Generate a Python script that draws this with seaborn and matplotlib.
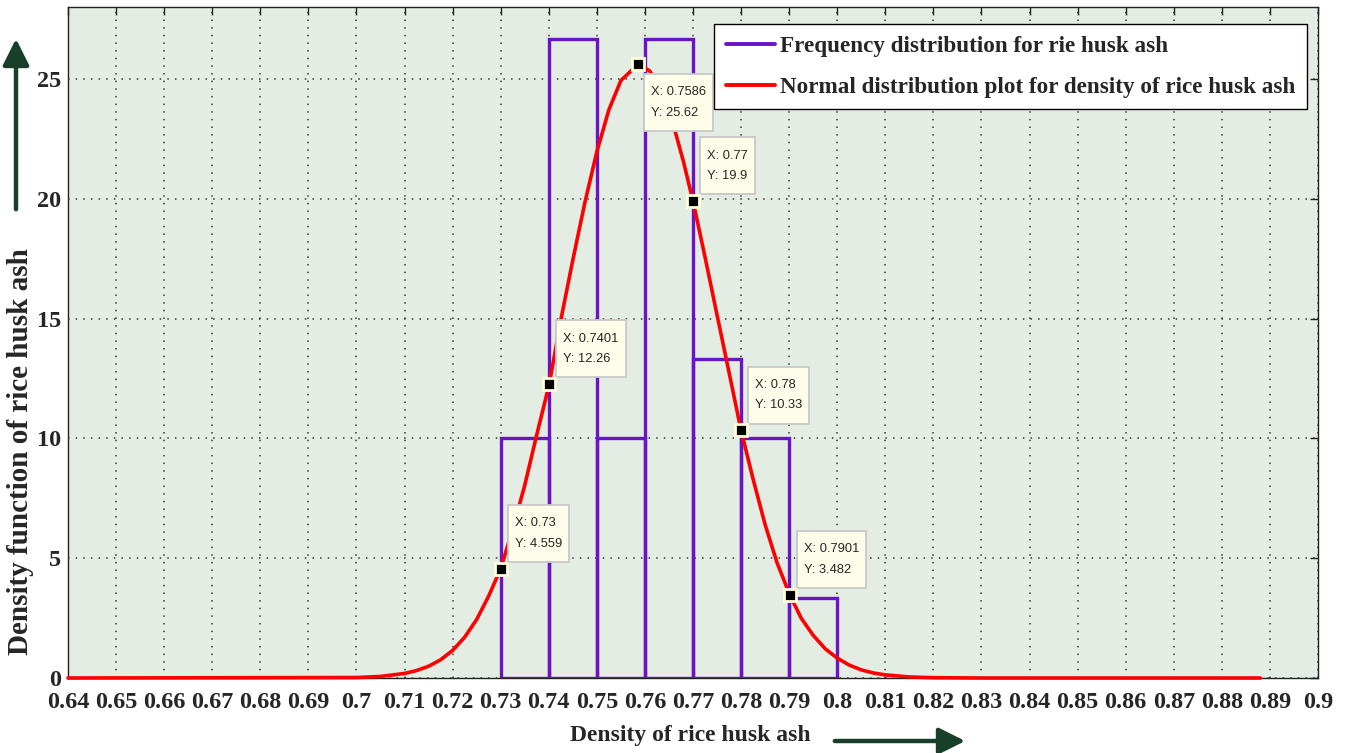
import numpy as np
import pandas as pd
import matplotlib
matplotlib.use("Agg")
import matplotlib.pyplot as plt
from matplotlib.lines import Line2D
from matplotlib.patches import FancyArrowPatch
from matplotlib.path import Path
import seaborn as sns

# ---- data ----
bin_edges = [0.73, 0.74, 0.75, 0.76, 0.77, 0.78, 0.79, 0.80]
bin_density = [10.0, 26.67, 10.0, 26.67, 13.33, 10.0, 3.33]

curve_x = [0.640, 0.700, 0.705, 0.710, 0.7125, 0.715, 0.7175, 0.720, 0.7225, 0.725,
           0.7275, 0.730, 0.7325, 0.735, 0.7375, 0.7401, 0.7425, 0.745, 0.7475, 0.750,
           0.7525, 0.755, 0.7586, 0.761, 0.7635, 0.766, 0.768, 0.770, 0.7725, 0.775,
           0.7775, 0.780, 0.7825, 0.785, 0.7875, 0.7901, 0.7925, 0.795, 0.7975, 0.800,
           0.8025, 0.805, 0.8075, 0.810, 0.815, 0.820, 0.830, 0.888]
curve_y = [0.0, 0.02, 0.065, 0.19, 0.31, 0.49, 0.76, 1.15, 1.70, 2.44,
           3.42, 4.559, 6.21, 8.04, 10.15, 12.26, 14.93, 17.44, 19.83, 21.96,
           23.71, 24.93, 25.62, 25.33, 24.45, 23.02, 21.56, 19.9, 17.57, 15.15,
           12.75, 10.33, 8.3, 6.4, 4.8, 3.482, 2.5, 1.78, 1.22, 0.83,
           0.54, 0.34, 0.21, 0.13, 0.044, 0.013, 0.0, 0.0]

tip_x = [0.73, 0.7401, 0.7586, 0.77, 0.78, 0.7901]
tip_y = [4.559, 12.26, 25.62, 19.9, 10.33, 3.482]
tip_labels = ["X: 0.73\nY: 4.559", "X: 0.7401\nY: 12.26", "X: 0.7586\nY: 25.62",
              "X: 0.77\nY: 19.9", "X: 0.78\nY: 10.33", "X: 0.7901\nY: 3.482"]

x_ticks = [round(0.64 + 0.01 * i, 2) for i in range(27)]
x_tick_labels = ["0.64", "0.65", "0.66", "0.67", "0.68", "0.69", "0.7", "0.71", "0.72",
                 "0.73", "0.74", "0.75", "0.76", "0.77", "0.78", "0.79", "0.8", "0.81",
                 "0.82", "0.83", "0.84", "0.85", "0.86", "0.87", "0.88", "0.89", "0.9"]
y_ticks = [0, 5, 10, 15, 20, 25]

legend_labels = ["Frequency distribution for rie husk ash",
                 "Normal distribution plot for density of rice husk ash"]

# ---- styling ----
sns.set_style("white")
plt.rcParams['font.family'] = ['Liberation Serif', 'DejaVu Serif']

PURPLE = "#6a14c8"
RED = "#ff0000"
ARROW = "#173f2a"
BG = "#e3ede3"


def tip_box(x0, y0, width, height, mutation_size):
    """Rectangular box with more vertical than horizontal padding (MATLAB datatip look)."""
    px = 0.55 * mutation_size
    py = 0.95 * mutation_size
    x0, y0 = x0 - px, y0 - py
    x1, y1 = x0 + width + 2 * px, y0 + height + 2 * py
    return Path([(x0, y0), (x1, y0), (x1, y1), (x0, y1), (x0, y0)], closed=True)


fig = plt.figure(figsize=(13.5, 7.53), dpi=100)
ax = fig.add_axes([68 / 1350, 1 - 678 / 753, 1250 / 1350, 671 / 753])
ax.set_facecolor(BG)

centers = [(a + b) / 2 for a, b in zip(bin_edges[:-1], bin_edges[1:])]
hist_df = pd.DataFrame({"x": centers, "w": bin_density})
sns.histplot(data=hist_df, x="x", weights="w", bins=bin_edges, stat="count",
             fill=False, element="bars", color=PURPLE, linewidth=2.4, ax=ax, zorder=2)

curve_df = pd.DataFrame({"x": curve_x, "y": curve_y})
sns.lineplot(data=curve_df, x="x", y="y", color=RED, linewidth=2.6, ax=ax,
             sort=False, zorder=3, clip_on=False)

ax.set_xlim(0.64, 0.9)
ax.set_ylim(0, 28)
ax.set_xticks(x_ticks)
ax.set_xticklabels(x_tick_labels)
ax.set_yticks(y_ticks)
ax.tick_params(axis="both", which="both", direction="in", length=6, width=1,
               top=True, right=True, labelsize=17.5, color="#222222")
ax.tick_params(axis="x", pad=10)
ax.tick_params(axis="y", pad=5)
for lab in ax.get_xticklabels() + ax.get_yticklabels():
    lab.set_fontweight("bold")

ax.grid(True, linestyle=(0, (1, 4)), color="#3a3a3a", linewidth=1.1)
ax.set_axisbelow(True)
for sp in ax.spines.values():
    sp.set_color("#222222")
    sp.set_linewidth(1.0)

ax.set_xlabel("Density of rice husk ash", fontsize=17, fontweight="bold")
ax.set_ylabel("Density function of rice husk ash", fontsize=21, fontweight="bold")
ax.xaxis.set_label_coords((690 - 68) / 1250, -0.07)
ax.yaxis.set_label_coords(-0.027, (678 - 452) / 671)

# data tips
for i, (tx, ty, lab) in enumerate(zip(tip_x, tip_y, tip_labels)):
    ax.plot([tx], [ty], marker="s", markersize=9, markerfacecolor="black",
            markeredgecolor="#ffffd8", markeredgewidth=2.0, linestyle="none", zorder=6,
            clip_on=False)
    if i == 2:
        offset, va = (13, -22), "top"
    else:
        offset, va = (14, 19), "bottom"
    ax.annotate(lab, xy=(tx, ty), xytext=offset, textcoords="offset pixels",
                ha="left", va=va, fontsize=9.3, family=["Liberation Sans", "DejaVu Sans"],
                linespacing=1.95, zorder=4,
                bbox=dict(boxstyle=tip_box, facecolor="#fdfdea",
                          edgecolor="#c8c8c8", linewidth=1.3))

handles = [Line2D([0], [0], color=PURPLE, linewidth=2.8),
           Line2D([0], [0], color=RED, linewidth=2.8)]
leg = ax.legend(handles, legend_labels, loc="upper right",
                bbox_to_anchor=((1307 - 68) / 1250, (678 - 24) / 671),
                prop={"family": "Liberation Serif", "weight": "bold", "size": 16.7},
                frameon=True, fancybox=False, framealpha=1, edgecolor="black",
                handlelength=2.15, handletextpad=0.2, labelspacing=0.85,
                borderpad=0.5, borderaxespad=0)
leg.get_frame().set_linewidth(1.0)
leg.set_zorder(10)

# decorative arrows
fig.add_artist(FancyArrowPatch(
    (16 / 1350, 1 - 212 / 753), (16 / 1350, 1 - 36 / 753), transform=fig.transFigure,
    arrowstyle="-|>,head_length=10,head_width=5", mutation_scale=1.6, color=ARROW,
    linewidth=3.2))
fig.add_artist(FancyArrowPatch(
    (832 / 1350, 1 - 741 / 753), (968 / 1350, 1 - 741 / 753), transform=fig.transFigure,
    arrowstyle="-|>,head_length=10,head_width=5", mutation_scale=1.6, color=ARROW,
    linewidth=3.2))

fig.savefig("out.png", dpi=100, facecolor="white")
